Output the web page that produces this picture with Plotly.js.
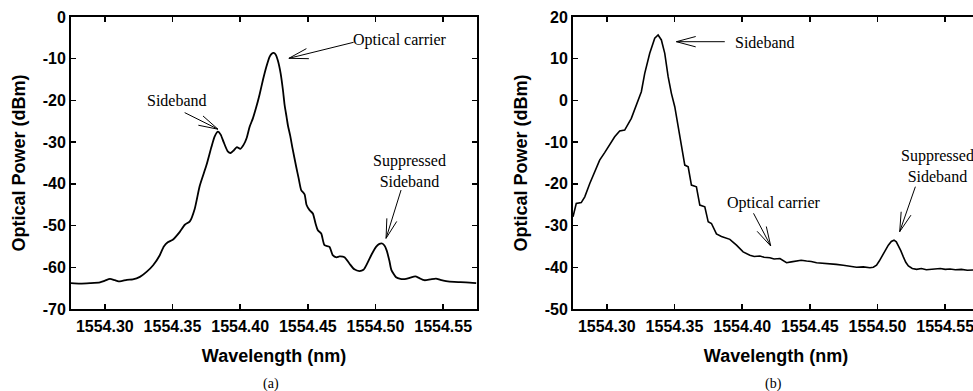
<!DOCTYPE html>
<html>
<head>
<meta charset="utf-8">
<script src="https://cdn.plot.ly/plotly-3.0.1.min.js"></script>
<style>
html,body{margin:0;padding:0;background:#fff;overflow:hidden;width:973px;height:391px;}
#chart{width:990px;height:391px;}
</style>
</head>
<body>
<div id="chart"></div>
<script>
// ---------- DATA ----------
// (a) spectrum
const wavelengthA = [1554.2750,1554.2816,1554.2890,1554.2964,1554.3001,1554.3038,1554.3074,1554.3111,1554.3163,1554.3207,
1554.3259,1554.3308,1554.3357,1554.3406,1554.3436,1554.3465,1554.3502,1554.3554,1554.3591,1554.3628,
1554.3664,1554.3701,1554.3751,1554.3788,1554.3812,1554.3836,1554.3856,1554.3878,1554.3908,1554.3930,
1554.3952,1554.3976,1554.4001,1554.4026,1554.4048,1554.4070,1554.4094,1554.4119,1554.4144,1554.4169,
1554.4193,1554.4218,1554.4233,1554.4247,1554.4262,1554.4279,1554.4299,1554.4316,1554.4328,1554.4343,
1554.4353,1554.4370,1554.4387,1554.4414,1554.4431,1554.4451,1554.4476,1554.4490,1554.4513,1554.4537,
1554.4557,1554.4574,1554.4599,1554.4623,1554.4660,1554.4684,1554.4712,1554.4734,1554.4771,1554.4807,
1554.4844,1554.4881,1554.4911,1554.4940,1554.4970,1554.5004,1554.5029,1554.5049,1554.5066,1554.5083,
1554.5103,1554.5117,1554.5152,1554.5184,1554.5226,1554.5257,1554.5294,1554.5324,1554.5361,1554.5405,
1554.5447,1554.5479,1554.5521,1554.5582,1554.5668,1554.5744];
const powerA = [-63.8,-63.9,-63.8,-63.6,-63.2,-62.8,-63.1,-63.4,-63.0,-62.9,
-62.3,-61.1,-59.5,-57.1,-55.0,-54.0,-53.4,-51.5,-49.8,-49.0,
-46.0,-40.5,-35.5,-31.1,-28.6,-27.5,-28.2,-30.0,-32.2,-32.6,
-32.0,-31.2,-31.6,-30.6,-29.0,-26.3,-24.3,-21.6,-18.5,-15.0,
-12.0,-9.5,-8.8,-8.6,-9.0,-10.5,-13.5,-17.5,-21.0,-24.0,
-26.0,-28.5,-31.5,-35.9,-38.5,-41.5,-42.5,-45.0,-46.3,-47.1,
-49.5,-51.1,-51.9,-54.7,-55.1,-57.1,-57.6,-57.4,-57.6,-59.1,
-60.5,-60.9,-60.6,-59.0,-57.0,-55.1,-54.4,-54.3,-54.8,-56.0,
-58.5,-60.6,-62.4,-62.8,-62.8,-62.5,-62.2,-62.6,-63.1,-62.9,
-62.7,-63.0,-63.3,-63.5,-63.6,-63.8];

// (b) spectrum
const wavelengthB = [1554.2750,1554.2774,1554.2811,1554.2837,1554.2874,1554.2911,1554.2947,1554.2984,1554.3021,1554.3058,
1554.3095,1554.3132,1554.3181,1554.3218,1554.3255,1554.3280,1554.3317,1554.3354,1554.3379,1554.3403,
1554.3428,1554.3453,1554.3477,1554.3502,1554.3527,1554.3551,1554.3576,1554.3601,1554.3625,1554.3662,
1554.3687,1554.3724,1554.3749,1554.3773,1554.3810,1554.3847,1554.3909,1554.3958,1554.4007,1554.4057,
1554.4089,1554.4131,1554.4162,1554.4205,1554.4236,1554.4279,1554.4303,1554.4328,1554.4363,1554.4402,
1554.4436,1554.4476,1554.4510,1554.4550,1554.4599,1554.4649,1554.4695,1554.4747,1554.4799,1554.4845,
1554.4895,1554.4944,1554.4969,1554.4993,1554.5013,1554.5030,1554.5055,1554.5080,1554.5102,1554.5122,
1554.5139,1554.5154,1554.5172,1554.5191,1554.5209,1554.5228,1554.5257,1554.5289,1554.5324,1554.5361,
1554.5413,1554.5464,1554.5501,1554.5536,1554.5575,1554.5620,1554.5664,1554.5708,1554.5750];
const powerB = [-27.9,-24.7,-24.5,-23.1,-19.9,-17.1,-14.3,-12.5,-10.7,-8.7,
-7.3,-7.1,-4.3,-1.1,2.1,6.5,11.3,14.9,15.7,14.5,
11.3,5.7,1.7,-1.5,-6.3,-10.3,-15.5,-15.9,-20.3,-20.7,
-25.1,-25.5,-29.1,-29.5,-32.0,-32.6,-33.3,-34.7,-36.3,-37.1,
-37.4,-37.3,-37.6,-37.7,-38.0,-37.9,-38.4,-38.9,-38.7,-38.5,
-38.3,-38.5,-38.6,-38.9,-39.0,-39.2,-39.3,-39.5,-39.8,-40.0,
-39.9,-40.1,-40.0,-39.5,-38.5,-37.5,-36.0,-34.7,-33.8,-33.5,
-33.9,-34.7,-36.0,-37.5,-38.8,-39.7,-40.3,-40.5,-40.3,-40.6,
-40.5,-40.3,-40.5,-40.4,-40.6,-40.5,-40.7,-40.7,-40.6];

// tick labels
const xTickVals = [1554.30,1554.35,1554.40,1554.45,1554.50,1554.55];
const xTickText = ['1554.30','1554.35','1554.40','1554.45','1554.50','1554.55'];
const yTickValsA = [0,-10,-20,-30,-40,-50,-60,-70];
const yTickTextA = ['0','-10','-20','-30','-40','-50','-60','-70'];
const yTickValsB = [20,10,0,-10,-20,-30,-40,-50];
const yTickTextB = ['20','10','0','-10','-20','-30','-40','-50'];

// ---------- LAYOUT ----------
// figure is slightly wider than the window; the right panel runs off the visible edge as in the original
const W = 990, H = 391;
const tickFont = {family:'Liberation Sans, Arial, sans-serif', size:16, color:'#000', weight:700};
const titleFont = {family:'Liberation Sans, Arial, sans-serif', size:18, color:'#000', weight:700};
const serif = {family:'Liberation Serif, Times New Roman, serif', size:16, color:'#000'};

function xAxis(domain, range, anchor){
  return {domain, range, anchor, tickvals:xTickVals, ticktext:xTickText, ticks:'inside', ticklen:5, tickwidth:1.5,
    tickcolor:'#000', showline:true, linecolor:'#000', linewidth:2, mirror:'allticks', showgrid:false, zeroline:false,
    tickfont:tickFont, ticklabelstandoff:2, title:{text:'Wavelength (nm)', font:titleFont, standoff:15}, automargin:false};
}
function yAxis(domain, range, vals, text, anchor){
  return {domain, range, anchor, tickvals:vals, ticktext:text, ticks:'inside', ticklen:5, tickwidth:1.5,
    tickcolor:'#000', showline:true, linecolor:'#000', linewidth:2, mirror:'allticks', showgrid:false, zeroline:false,
    tickfont:tickFont, title:{text:'Optical Power (dBm)', font:titleFont, standoff:12}, automargin:false};
}

const yDom = [1-309/H, 1-17/H];

function arrowShapes(xref, yref, tipX, tipY, dx, dy){
  const base = {type:'line', xref, yref, xsizemode:'pixel', ysizemode:'pixel', xanchor:tipX, yanchor:tipY,
    x0:0, y0:0, line:{color:'#000', width:1}};
  const th = Math.atan2(dy, dx), phi = 15*Math.PI/180, L = 20;
  return [
    Object.assign({}, base, {x1:dx, y1:-dy}),
    Object.assign({}, base, {x1:L*Math.cos(th+phi), y1:-L*Math.sin(th+phi)}),
    Object.assign({}, base, {x1:L*Math.cos(th-phi), y1:-L*Math.sin(th-phi)})
  ];
}

const shapes = [].concat(
  arrowShapes('x','y', 1554.4360, -9.9, 64.7, -16),
  arrowShapes('x','y', 1554.3836, -26.9, -33.3, -16.6),
  arrowShapes('x','y', 1554.5078, -53.06, 15, -48.3),
  arrowShapes('x2','y2', 1554.3514, 14.08, 48.4, 0),
  arrowShapes('x2','y2', 1554.4211, -34.9, -17.2, -32.7),
  arrowShapes('x2','y2', 1554.5164, -31.47, 15.7, -45)
);

function note(xref, yref, x, y, text){
  return {xref, yref, x, y, text, showarrow:false, font:serif, xanchor:'center', yanchor:'middle'};
}
const captionFont = {family:'Liberation Serif, Times New Roman, serif', size:14, color:'#000'};
const annotations = [
  note('x','y', 1554.5184, -5.51, 'Optical carrier'),
  note('x','y', 1554.3532, -20.07, 'Sideband'),
  note('x','y', 1554.5250, -36.99, 'Suppressed<br>Sideband'),
  note('x2','y2', 1554.4168, 13.93, 'Sideband'),
  note('x2','y2', 1554.4235, -24.52, 'Optical carrier'),
  note('x2','y2', 1554.5445, -15.72, 'Suppressed<br>Sideband'),
  {xref:'paper', yref:'paper', x:271/W, y:1-384/H, text:'(a)', showarrow:false,
    xanchor:'center', yanchor:'middle', font:captionFont},
  {xref:'paper', yref:'paper', x:773/W, y:1-384/H, text:'(b)', showarrow:false,
    xanchor:'center', yanchor:'middle', font:captionFont}
];

const traces = [
  {x:wavelengthA, y:powerA, type:'scatter', mode:'lines', xaxis:'x', yaxis:'y',
    line:{color:'#000', width:1.8, shape:'spline', smoothing:0.6}, showlegend:false, hoverinfo:'skip'},
  {x:wavelengthB, y:powerB, type:'scatter', mode:'lines', xaxis:'x2', yaxis:'y2',
    line:{color:'#000', width:1.6}, showlegend:false, hoverinfo:'skip'}
];

const layout = {
  width:W, height:H, margin:{l:0, r:0, t:0, b:0},
  paper_bgcolor:'#fff', plot_bgcolor:'#fff', showlegend:false,
  xaxis: xAxis([71/W, 477/W], [1554.275, 1554.575], 'y'),
  yaxis: yAxis(yDom, [-70, 0], yTickValsA, yTickTextA, 'x'),
  xaxis2: xAxis([573/W, 979/W], [1554.275, 1554.575], 'y2'),
  yaxis2: yAxis(yDom, [-50, 20], yTickValsB, yTickTextB, 'x2'),
  shapes, annotations
};

Plotly.newPlot('chart', traces, layout, {staticPlot:true, displayModeBar:false});
</script>
</body>
</html>
